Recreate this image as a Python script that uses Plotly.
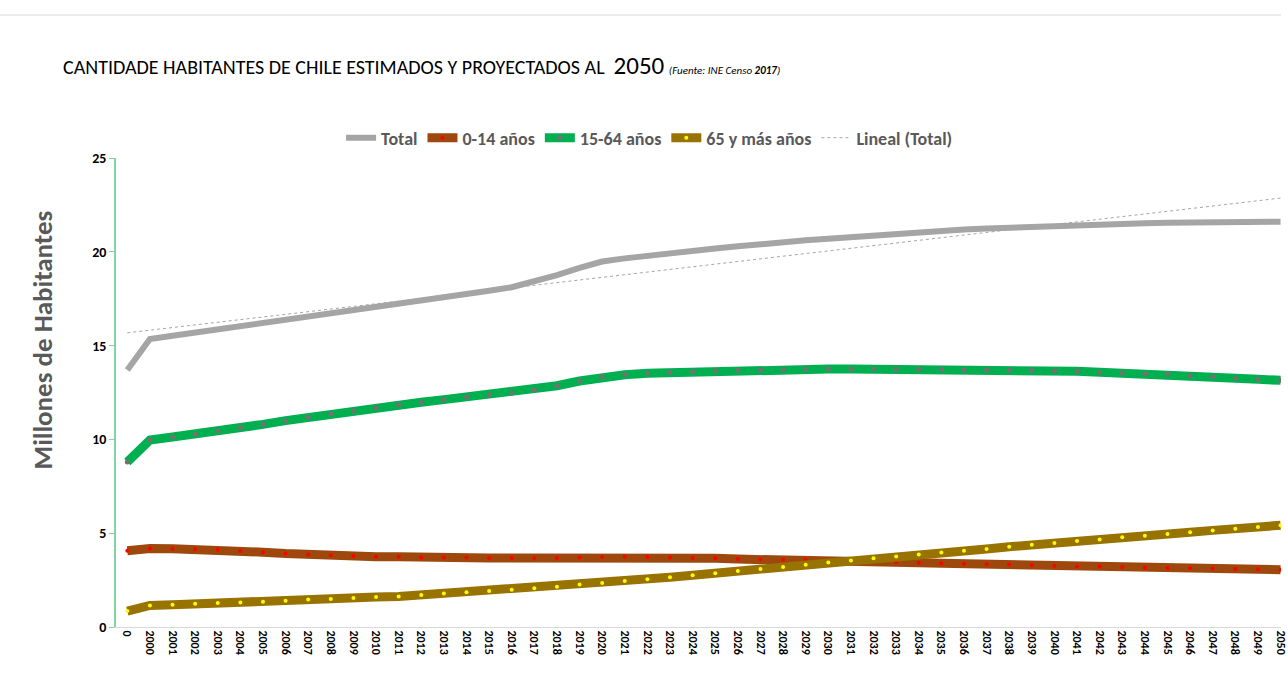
import numpy as np
import plotly.graph_objects as go

categories = ["0", "2000", "2001", "2002", "2003", "2004", "2005", "2006", "2007", "2008", "2009",
              "2010", "2011", "2012", "2013", "2014", "2015", "2016", "2017", "2018", "2019",
              "2020", "2021", "2022", "2023", "2024", "2025", "2026", "2027", "2028", "2029",
              "2030", "2031", "2032", "2033", "2034", "2035", "2036", "2037", "2038", "2039",
              "2040", "2041", "2042", "2043", "2044", "2045", "2046", "2047", "2048", "2049", "2050"]

total = [13.70, 15.35, 15.52, 15.69, 15.85, 16.01, 16.17, 16.33, 16.50, 16.67, 16.85,
         17.03, 17.20, 17.38, 17.56, 17.74, 17.92, 18.11, 18.41, 18.76, 19.14,
         19.48, 19.65, 19.80, 19.92, 20.06, 20.18, 20.29, 20.42, 20.52, 20.61,
         20.70, 20.79, 20.87, 20.95, 21.04, 21.13, 21.19, 21.24, 21.29, 21.34,
         21.39, 21.43, 21.46, 21.49, 21.52, 21.55, 21.57, 21.58, 21.59, 21.60, 21.60]

edad_0_14 = [4.07, 4.18, 4.17, 4.15, 4.12, 4.05, 3.99, 3.92, 3.86, 3.82, 3.78,
             3.75, 3.75, 3.71, 3.70, 3.70, 3.68, 3.68, 3.68, 3.68, 3.70,
             3.73, 3.75, 3.73, 3.71, 3.68, 3.66, 3.62, 3.61, 3.59, 3.57,
             3.54, 3.51, 3.48, 3.45, 3.42, 3.40, 3.37, 3.34, 3.33, 3.29,
             3.27, 3.23, 3.22, 3.20, 3.16, 3.15, 3.13, 3.12, 3.09, 3.08, 3.05]

edad_15_64 = [8.80, 9.97, 10.13, 10.27, 10.45, 10.62, 10.80, 11.00, 11.18, 11.35, 11.52,
              11.69, 11.85, 11.98, 12.12, 12.26, 12.37, 12.47, 12.65, 12.86, 13.11,
              13.34, 13.45, 13.52, 13.56, 13.61, 13.65, 13.68, 13.70, 13.72, 13.74,
              13.75, 13.75, 13.75, 13.74, 13.74, 13.72, 13.70, 13.70, 13.68, 13.67,
              13.65, 13.63, 13.58, 13.54, 13.50, 13.47, 13.41, 13.34, 13.25, 13.20, 13.15]

edad_65 = [0.85, 1.15, 1.18, 1.24, 1.28, 1.31, 1.35, 1.40, 1.46, 1.49, 1.55,
           1.60, 1.63, 1.71, 1.78, 1.85, 1.92, 1.99, 2.06, 2.15, 2.26,
           2.35, 2.45, 2.54, 2.65, 2.76, 2.86, 2.99, 3.09, 3.20, 3.32,
           3.44, 3.55, 3.66, 3.76, 3.87, 3.97, 4.07, 4.16, 4.28, 4.39,
           4.48, 4.58, 4.67, 4.78, 4.87, 4.96, 5.05, 5.15, 5.24, 5.33, 5.42]

# Excel-style linear trendline of Total
idx = np.arange(1, len(total) + 1)
slope, intercept = np.polyfit(idx, np.array(total), 1)
trend = list(slope * idx + intercept)

FONT = "Carlito, Calibri, Lato, 'Open Sans', sans-serif"

fig = go.Figure()

fig.add_trace(go.Scatter(x=categories, y=total, name="Total", mode="lines",
                         line=dict(color="#a5a5a5", width=6)))
fig.add_trace(go.Scatter(x=categories, y=edad_0_14, name="0-14 años", mode="lines+markers",
                         line=dict(color="#9e480e", width=9),
                         marker=dict(color="#ff0000", size=4, line=dict(width=0))))
fig.add_trace(go.Scatter(x=categories, y=edad_15_64, name="15-64 años", mode="lines+markers",
                         line=dict(color="#00b050", width=9),
                         marker=dict(color="#767171", size=5, line=dict(width=0))))
fig.add_trace(go.Scatter(x=categories, y=edad_65, name="65 y más años", mode="lines+markers",
                         line=dict(color="#997300", width=9),
                         marker=dict(color="#ffff00", size=4, line=dict(width=0))))
fig.add_trace(go.Scatter(x=categories, y=trend, name="Lineal (Total)", mode="lines",
                         line=dict(color="#a5a5a5", width=1, dash="dot")))

fig.update_layout(
    width=1288, height=677,
    margin=dict(l=116, r=0, t=158, b=50),
    paper_bgcolor="white", plot_bgcolor="white",
    font=dict(family=FONT),
    title=dict(
        text="CANTIDADE HABITANTES DE CHILE ESTIMADOS Y PROYECTADOS AL  <span style='font-size:25px'>2050</span> "
             "<i><span style='font-size:11px'>(Fuente: INE Censo <b>2017</b>)</span></i>",
        x=63 / 1288, xanchor="left", y=1 - 67 / 677, yanchor="middle",
        font=dict(size=20, color="#000000", family=FONT)),
    legend=dict(orientation="h", x=0.458, xanchor="center", y=1 + 20 / 469, yanchor="middle",
                font=dict(size=18, color="#595959", family=FONT, weight="bold"),
                itemwidth=30, tracegroupgap=0, bgcolor="rgba(0,0,0,0)"),
    showlegend=True,
)

fig.update_xaxes(type="category", range=[-0.5, 51.02], showgrid=False,
                 showline=True, linecolor="#d9d9d9", linewidth=1,
                 ticks="", tickangle=90,
                 tickfont=dict(size=12, color="#000000", family=FONT, weight="bold"),
                 zeroline=False)
fig.update_yaxes(range=[0, 25], dtick=5, showgrid=False,
                 showline=True, linecolor="#7fd6a0", linewidth=1.5,
                 ticks="outside", ticklen=5, tickcolor="#7fd6a0",
                 tickfont=dict(size=14, color="#000000", family=FONT, weight="bold"),
                 zeroline=False)

fig.add_annotation(text="<b>Millones de Habitantes</b>", xref="paper", yref="paper",
                   x=(42 - 116) / 1172, y=(627 - 340) / 469, xanchor="center", yanchor="middle",
                   textangle=-90, showarrow=False,
                   font=dict(size=27, color="#595959", family=FONT))

fig.add_shape(type="line", xref="paper", yref="paper",
              x0=-0.1, x1=1.0, y0=(627 - 15) / 469, y1=(627 - 15) / 469,
              line=dict(color="#d9d9d9", width=1))

fig.write_html("out.html")
